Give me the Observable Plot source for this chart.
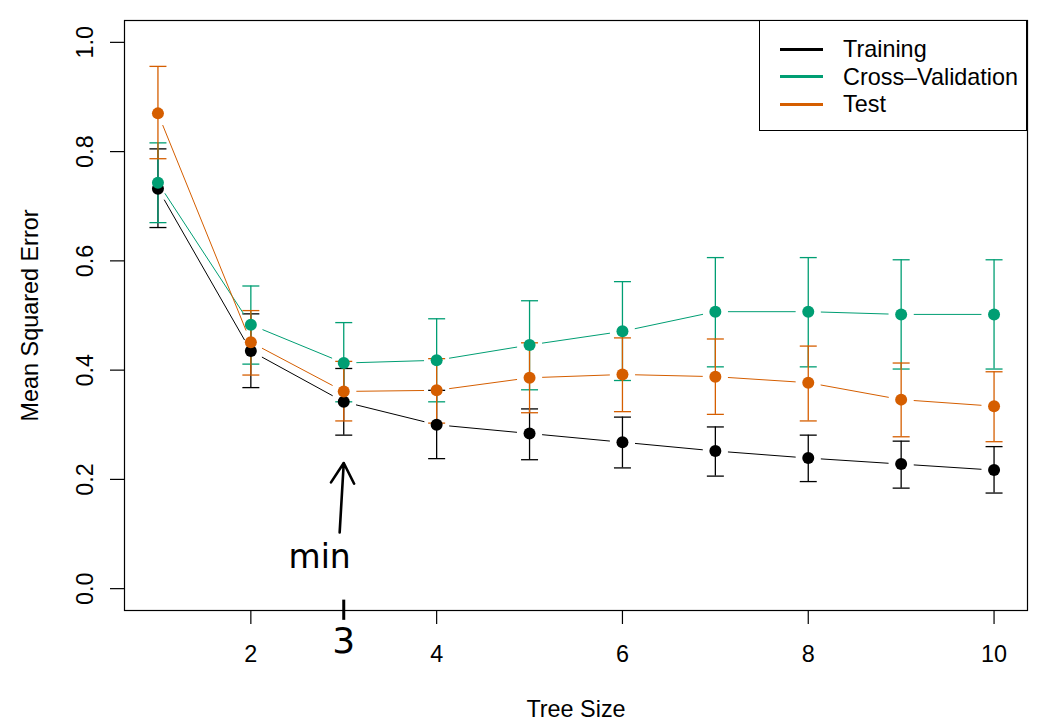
<!DOCTYPE html>
<html>
<head>
<meta charset="utf-8">
<script src="https://cdn.jsdelivr.net/npm/d3@7"></script>
<script src="https://cdn.jsdelivr.net/npm/@observablehq/plot@0.6"></script>
<style>
  html, body { margin: 0; padding: 0; background: #fff; }
  #wrap { position: relative; width: 1038px; height: 728px; font-family: "Liberation Sans", Arial, sans-serif; }
  #legend { position: absolute; left: 759px; top: 20px; width: 268px; height: 111px; border: 1px solid #000; background: #fff; box-sizing: border-box; }
  .row { position: absolute; left: 0; height: 26px; font-size: 23.4px; line-height: 26px; }
  .sw { position: absolute; left: 20px; top: 11.5px; width: 43px; height: 3px; }
  .lb { position: absolute; left: 83px; top: 0; white-space: nowrap; color: #000; }
</style>
</head>
<body>
<div id="wrap"><div id="chart"></div><div id="legend"></div></div>
<script>
const sizes = [1, 2, 3, 4, 5, 6, 7, 8, 9, 10];
const trainMSE = [0.732, 0.435, 0.342, 0.300, 0.284, 0.268, 0.252, 0.239, 0.228, 0.217];
const trainLo  = [0.661, 0.368, 0.281, 0.238, 0.236, 0.221, 0.206, 0.196, 0.184, 0.175];
const trainHi  = [0.805, 0.503, 0.403, 0.363, 0.329, 0.314, 0.296, 0.281, 0.270, 0.260];
const cvMSE    = [0.743, 0.483, 0.413, 0.418, 0.446, 0.471, 0.507, 0.507, 0.502, 0.502];
const cvLo     = [0.670, 0.411, 0.342, 0.342, 0.364, 0.381, 0.406, 0.406, 0.402, 0.402];
const cvHi     = [0.816, 0.554, 0.487, 0.494, 0.527, 0.562, 0.606, 0.606, 0.602, 0.602];
const testMSE  = [0.870, 0.451, 0.361, 0.363, 0.386, 0.392, 0.388, 0.377, 0.346, 0.334];
const testLo   = [0.787, 0.391, 0.307, 0.303, 0.322, 0.324, 0.319, 0.307, 0.278, 0.269];
const testHi   = [0.956, 0.509, 0.416, 0.421, 0.450, 0.459, 0.457, 0.444, 0.413, 0.397];

const seriesNames = ["Training", "Cross\u2013Validation", "Test"];
const seriesColors = ["#000000", "#009E73", "#D55E00"];
const xTicks = [2, 4, 6, 8, 10];
const yTicks = [0.0, 0.2, 0.4, 0.6, 0.8, 1.0];

// hand-drawn annotation ("min" arrow pointing at tree size 3)
const annotArrowX = [2.956, 3.0];
const annotArrowY = [0.103, 0.230];
const annotMinText = ["min"];
const annotMinPos = [2.74, 0.037];
const annotTickX = [3];
const annotTickY = [-0.021, -0.058];
const annotThree = ["3"];
const annotThreeY = [-0.096];

const FS = 23.4;

const series = [
  {mse: trainMSE, lo: trainLo, hi: trainHi},
  {mse: cvMSE, lo: cvLo, hi: cvHi},
  {mse: testMSE, lo: testLo, hi: testHi}
].map((s, k) => ({...s, name: seriesNames[k], color: seriesColors[k],
  rows: sizes.map((x, i) => ({x, y: s.mse[i], lo: s.lo[i], hi: s.hi[i]}))}));

const capSymbol = {
  draw(context, size) {
    const r = Math.sqrt(size / Math.PI);
    context.moveTo(-r, 0);
    context.lineTo(r, 0);
  }
};

const segs = (rows) => d3.pairs(rows).map(([a, b]) => ({x1: a.x, y1: a.y, x2: b.x, y2: b.y}));

const marks = [];
for (const s of series) {
  marks.push(Plot.ruleX(s.rows, {x: "x", y1: "lo", y2: "hi", stroke: s.color, strokeWidth: 1.3}));
  marks.push(Plot.dot(s.rows, {x: "x", y: "lo", r: 8.5, symbol: capSymbol, stroke: s.color, fill: "none", strokeWidth: 1.3}));
  marks.push(Plot.dot(s.rows, {x: "x", y: "hi", r: 8.5, symbol: capSymbol, stroke: s.color, fill: "none", strokeWidth: 1.3}));
}
for (const s of series) {
  marks.push(Plot.arrow(segs(s.rows), {x1: "x1", y1: "y1", x2: "x2", y2: "y2", stroke: s.color, strokeWidth: 1, headLength: 0, inset: 13}));
}
for (const s of series) {
  marks.push(Plot.dot(s.rows, {x: "x", y: "y", r: 6, fill: s.color, stroke: "none"}));
}

const chart = Plot.plot({
  width: 1038,
  height: 728,
  marginLeft: 124,
  marginRight: 11,
  marginTop: 20,
  marginBottom: 118,
  style: {fontFamily: '"Liberation Sans", Arial, sans-serif', fontSize: FS + "px", background: "#fff"},
  x: {domain: [0.64, 10.36]},
  y: {domain: [-0.04, 1.04]},
  marks: [
    Plot.frame({stroke: "#000", strokeWidth: 1.2}),
    ...marks,
    Plot.axisX(xTicks, {tickSize: 14, tickPadding: 21, fontSize: FS, label: null, tickFormat: d => String(d), strokeWidth: 1.2}),
    Plot.axisY(yTicks, {tickSize: 14, tickFormat: () => "", label: null, strokeWidth: 1.2}),
    Plot.text(yTicks, {y: d => d, frameAnchor: "left", text: d => d.toFixed(1), rotate: -90, dx: -32, textAnchor: "middle", lineAnchor: "bottom", fontSize: FS}),
    Plot.text(["Tree Size"], {frameAnchor: "bottom", dy: 106, lineAnchor: "bottom", textAnchor: "middle", fontSize: FS}),
    Plot.text(["Mean Squared Error"], {frameAnchor: "left", dx: -87, rotate: -90, lineAnchor: "bottom", textAnchor: "middle", fontSize: FS}),
    // annotation
    Plot.arrow([0], {x1: () => annotArrowX[0], y1: () => annotArrowY[0], x2: () => annotArrowX[1], y2: () => annotArrowY[1], stroke: "#000", strokeWidth: 2.6, headLength: 14, bend: false}),
    Plot.text(annotMinText, {x: () => annotMinPos[0], y: () => annotMinPos[1], textAnchor: "middle", lineAnchor: "bottom", fontSize: 33, fontFamily: '"DejaVu Sans"', fill: "#000"}),
    Plot.ruleX(annotTickX, {x: d => d, y1: () => annotTickY[0], y2: () => annotTickY[1], stroke: "#000", strokeWidth: 3}),
    Plot.text(annotThree, {x: () => annotTickX[0], y: () => annotThreeY[0], textAnchor: "middle", lineAnchor: "middle", fontSize: 36, fontFamily: '"DejaVu Sans"', fill: "#000"})
  ]
});
document.getElementById("chart").appendChild(chart);

const legend = document.getElementById("legend");
series.forEach((s, k) => {
  const row = document.createElement("div");
  row.className = "row";
  row.style.top = (15 + k * 27.5) + "px";
  row.innerHTML = `<span class="sw" style="background:${s.color}"></span><span class="lb">${s.name}</span>`;
  legend.appendChild(row);
});
</script>
</body>
</html>
